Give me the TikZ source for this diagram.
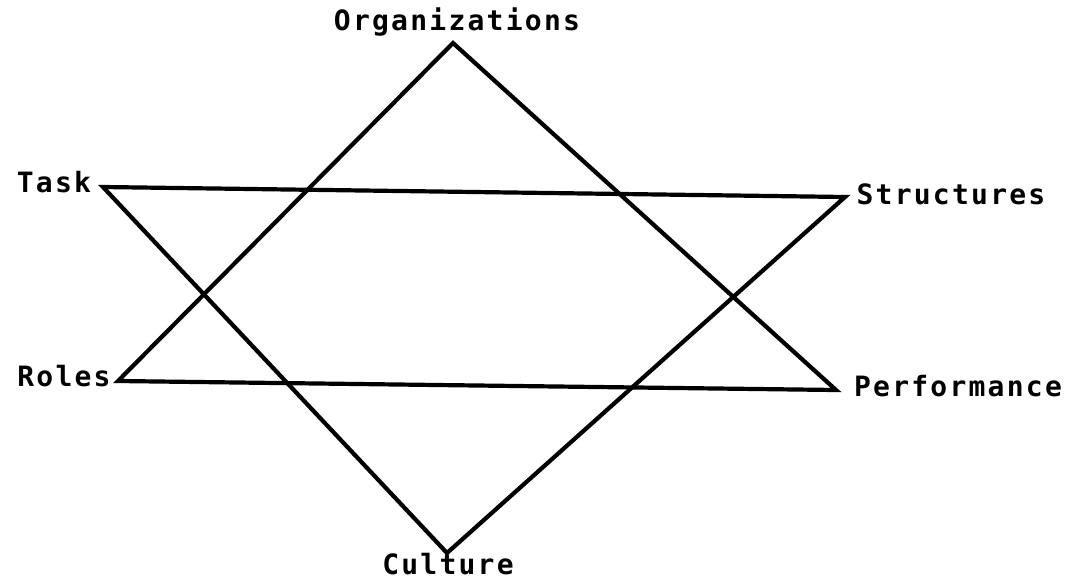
\documentclass[tikz,border=0pt]{standalone}
\usepackage{fontspec}
\newfontfamily\dotfont{DejaVu Sans Mono}[LetterSpace=8]
\begin{document}
\begin{tikzpicture}[x=1pt, y=-1pt,
  edge/.style={line width=4.2pt, black},
  lbl/.style={font=\fontsize{28}{30}\selectfont\dotfont\bfseries, inner sep=0pt}]
  \useasboundingbox (0,0) rectangle (1066,582);
  % Corners
  \coordinate (org) at (453,43);
  \coordinate (task) at (103,187);
  \coordinate (struct) at (845,197);
  \coordinate (roles) at (118,381);
  \coordinate (perf) at (836,390);
  \coordinate (cult) at (447,553);
  % First triangle
  \draw[edge] (org) -- (roles) -- (perf) -- cycle;
  % Second triangle
  \draw[edge] (task) -- (struct) -- (cult) -- cycle;
  % Labels
  \node[lbl] (orglbl) at (457,22) {Organizations};
  \node[lbl] (tasklbl) at (54,182) {Task};
  \node[lbl] (structlbl) at (951,194) {Structures};
  \node[lbl] (roleslbl) at (64,376) {Roles};
  \node[lbl] (perflbl) at (958,386) {Performance};
  \node[lbl] (cultlbl) at (448,564) {Culture};
\end{tikzpicture}
\end{document}
